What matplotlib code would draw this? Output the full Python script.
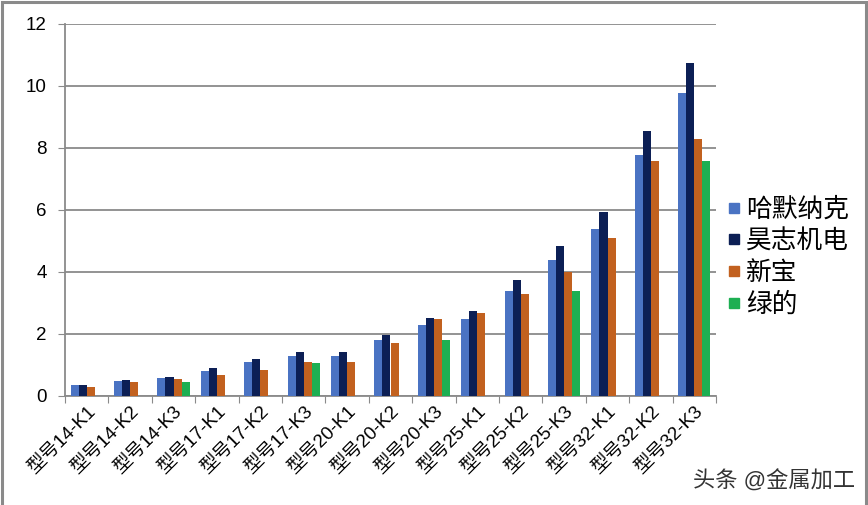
import numpy as np
import matplotlib.pyplot as plt
from matplotlib.patches import Rectangle
from matplotlib.lines import Line2D

plt.rcParams['font.family'] = ['Liberation Sans', 'Noto Sans CJK SC', 'DejaVu Sans']

# data
models = ['型号14-K1', '型号14-K2', '型号14-K3', '型号17-K1', '型号17-K2',
          '型号17-K3', '型号20-K1', '型号20-K2', '型号20-K3', '型号25-K1',
          '型号25-K2', '型号25-K3', '型号32-K1', '型号32-K2', '型号32-K3']
harmonic = [0.35, 0.48, 0.58, 0.81, 1.10, 1.29, 1.29, 1.81, 2.29, 2.48,
            3.39, 4.39, 5.39, 7.77, 9.77]
haozhi = [0.35, 0.52, 0.61, 0.90, 1.19, 1.42, 1.42, 1.97, 2.52, 2.74,
          3.74, 4.84, 5.94, 8.56, 10.75]
xinbao = [0.29, 0.45, 0.56, 0.69, 0.85, 1.10, 1.10, 1.71, 2.48, 2.68,
          3.29, 4.00, 5.10, 7.58, 8.30]
leaderdrive = [None, None, 0.46, None, None, 1.07, None, None, 1.81, None,
               None, 3.39, None, None, 7.58]
series_names = ['哈默纳克', '昊志机电', '新宝', '绿的']
colors = ['#4A73C3', '#0C1F55', '#C2611F', '#1DAF52']

W, H = 868, 505
fig = plt.figure(figsize=(W / 100, H / 100), dpi=100)
ax = fig.add_axes([65 / W, (H - 396) / H, (716 - 65) / W, (396 - 24) / H])

x = np.arange(len(models))
bw = 0.185
all_series = [harmonic, haozhi, xinbao, leaderdrive]
for i, (vals, c) in enumerate(zip(all_series, colors)):
    xs = [xi + (i - 1.5) * bw for xi, v in zip(x, vals) if v is not None]
    ys = [v for v in vals if v is not None]
    ax.bar(xs, ys, width=bw, color=c, zorder=3)

ax.set_xlim(-0.5, len(models) - 0.5)
ax.set_ylim(0, 12)
ax.set_yticks(range(0, 13, 2))
ax.yaxis.grid(True, color='#8a8a8a', lw=1.3, zorder=0)
ax.tick_params(axis='y', length=5, color='#8a8a8a', labelsize=13.5, pad=8)

ax.set_xticks(np.arange(-0.5, len(models)), labels=[])
ax.set_xticks(x, labels=models, minor=True)
ax.tick_params(axis='x', which='major', length=5, color='#8a8a8a')
ax.tick_params(axis='x', which='minor', length=0, labelsize=13.5, pad=5)
for lab in ax.get_xticklabels(minor=True):
    lab.set_rotation(45)
    lab.set_ha('right')
    lab.set_rotation_mode('anchor')

for s in ['top', 'right']:
    ax.spines[s].set_visible(False)
for s in ['left', 'bottom']:
    ax.spines[s].set_color('#8a8a8a')
    ax.spines[s].set_linewidth(1.3)

handles = [Line2D([], [], marker='s', ls='', color=c, markersize=7) for c in colors]
fig.legend(handles, series_names, loc='upper left',
           bbox_to_anchor=(704 / W, 1 - 174 / H), frameon=False,
           fontsize=18.5, handlelength=0.5, handletextpad=0.25, labelspacing=0.3)

fig.text(855 / W, 1 - 482 / H, '头条 @金属加工', ha='right', va='center',
         fontsize=16, color='#333333')

fig.patches.append(Rectangle((1.5 / W, -0.1), (866 - 1.5) / W, 1.1 - 1.5 / H,
                             transform=fig.transFigure, fill=False,
                             ec='#8a8a8a', lw=2.2))

fig.savefig('out.png', dpi=100)
